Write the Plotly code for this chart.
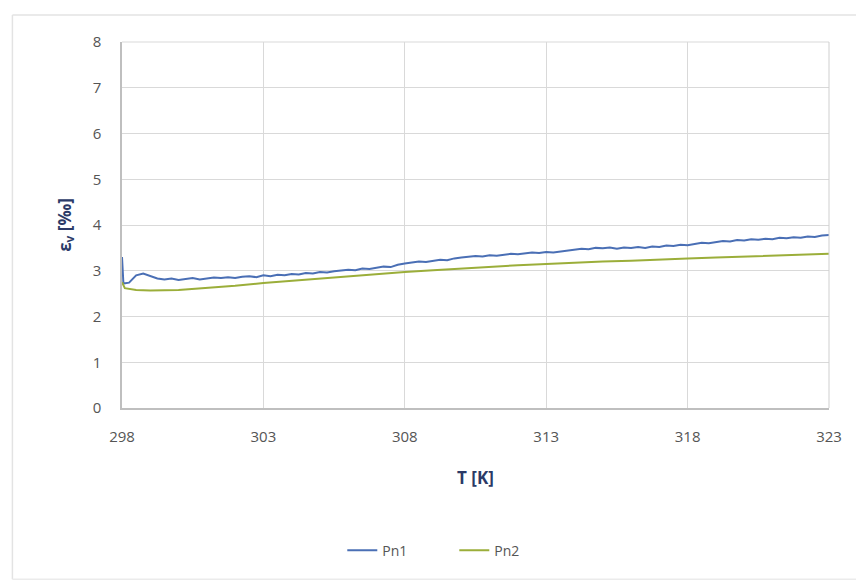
import plotly.graph_objects as go

# ---- data ----
T_PN1 = [298.0, 298.05, 298.25, 298.5, 298.75, 299.0, 299.25, 299.5, 299.75,
         300.0, 300.25, 300.5, 300.75, 301.0, 301.25, 301.5, 301.75,
         302.0, 302.25, 302.5, 302.75, 303.0, 303.25, 303.5, 303.75,
         304.0, 304.25, 304.5, 304.75, 305.0, 305.25, 305.5, 305.75,
         306.0, 306.25, 306.5, 306.75, 307.0, 307.25, 307.5, 307.75,
         308.0, 308.25, 308.5, 308.75, 309.0, 309.25, 309.5, 309.75,
         310.0, 310.25, 310.5, 310.75, 311.0, 311.25, 311.5, 311.75,
         312.0, 312.25, 312.5, 312.75, 313.0, 313.25, 313.5, 313.75,
         314.0, 314.25, 314.5, 314.75, 315.0, 315.25, 315.5, 315.75,
         316.0, 316.25, 316.5, 316.75, 317.0, 317.25, 317.5, 317.75,
         318.0, 318.25, 318.5, 318.75, 319.0, 319.25, 319.5, 319.75,
         320.0, 320.25, 320.5, 320.75, 321.0, 321.25, 321.5, 321.75,
         322.0, 322.25, 322.5, 322.75, 323.0]
PN1 = [3.30, 2.72, 2.74, 2.90, 2.94, 2.88, 2.83, 2.81, 2.83,
       2.80, 2.82, 2.84, 2.81, 2.83, 2.85, 2.84, 2.86,
       2.84, 2.87, 2.88, 2.86, 2.90, 2.88, 2.91, 2.90,
       2.93, 2.92, 2.95, 2.94, 2.97, 2.96, 2.99, 3.00,
       3.02, 3.01, 3.05, 3.04, 3.07, 3.09, 3.08, 3.13,
       3.16, 3.18, 3.20, 3.19, 3.22, 3.24, 3.23, 3.27,
       3.29, 3.31, 3.32, 3.31, 3.34, 3.33, 3.35, 3.37,
       3.36, 3.38, 3.40, 3.39, 3.41, 3.40, 3.42, 3.45,
       3.46, 3.48, 3.47, 3.50, 3.49, 3.51, 3.48, 3.51,
       3.50, 3.52, 3.50, 3.53, 3.52, 3.55, 3.54, 3.57,
       3.56, 3.58, 3.61, 3.60, 3.63, 3.65, 3.64, 3.67,
       3.66, 3.69, 3.68, 3.70, 3.69, 3.72, 3.71, 3.73,
       3.72, 3.75, 3.74, 3.77, 3.78]

T_PN2 = [298.0, 298.1, 298.5, 299.0, 300.0, 301.0, 302.0, 303.0, 304.0, 305.0,
         306.0, 307.0, 308.0, 309.0, 310.0, 311.0, 312.0, 313.0, 314.0,
         315.0, 316.0, 317.0, 318.0, 319.0, 320.0, 321.0, 322.0, 323.0]
PN2 = [2.75, 2.62, 2.58, 2.57, 2.58, 2.62, 2.67, 2.73, 2.78, 2.83,
       2.88, 2.93, 2.97, 3.01, 3.05, 3.08, 3.12, 3.15, 3.18,
       3.20, 3.22, 3.25, 3.27, 3.29, 3.31, 3.33, 3.35, 3.37]

X_TICKS = [298, 303, 308, 313, 318, 323]
Y_TICKS = [0, 1, 2, 3, 4, 5, 6, 7, 8]

FONT = "Open Sans"
TICK_COLOR = "#555555"
TITLE_COLOR = "#2B3A67"
GRID = "#D9D9D9"

fig = go.Figure()
fig.add_trace(go.Scatter(x=T_PN1, y=PN1, mode="lines", name="Pn1",
                         line=dict(color="#4A6FB5", width=2)))
fig.add_trace(go.Scatter(x=T_PN2, y=PN2, mode="lines", name="Pn2",
                         line=dict(color="#9BAE3A", width=2)))

fig.update_layout(
    width=864, height=583,
    margin=dict(l=114, r=43, t=34, b=183, autoexpand=False),
    paper_bgcolor="white", plot_bgcolor="white",
    font=dict(family=FONT, color=TICK_COLOR, size=14),
    showlegend=True,
    legend=dict(orientation="h", x=0.47, xanchor="center", y=-0.39, yanchor="middle",
                font=dict(size=14, color=TICK_COLOR), entrywidth=67, entrywidthmode="pixels"),
    xaxis=dict(range=[298, 323], tickvals=X_TICKS, ticktext=[str(v) for v in X_TICKS],
               showgrid=True, gridcolor=GRID, gridwidth=1,
               showline=True, linecolor="#BFBFBF", linewidth=1.5,
               ticks="", tickfont=dict(size=15, color=TICK_COLOR),
               ticklabelstandoff=14, zeroline=False, automargin=False,
               title=dict(text="<b>T [K]</b>", font=dict(size=17, color=TITLE_COLOR), standoff=27)),
    yaxis=dict(range=[0, 8], tickvals=Y_TICKS,
               showgrid=True, gridcolor=GRID, gridwidth=1,
               showline=True, linecolor="#BFBFBF", linewidth=1.5,
               ticks="", tickfont=dict(size=15, color=TICK_COLOR),
               ticklabelstandoff=16, zeroline=False, automargin=False,
               title=dict(text="<b>ε<sub>v</sub> [‰]</b>", font=dict(size=17, color=TITLE_COLOR), standoff=17)),
    shapes=[
        dict(type="line", xref="paper", yref="paper", x0=-0.155, x1=1.08, y0=1.074, y1=1.074,
             line=dict(color="#E3E3E3", width=1.5)),
        dict(type="line", xref="paper", yref="paper", x0=-0.155, x1=-0.155, y0=1.074, y1=-0.468,
             line=dict(color="#E3E3E3", width=1.5)),
        dict(type="line", xref="paper", yref="paper", x0=-0.155, x1=1.08, y0=-0.468, y1=-0.468,
             line=dict(color="#EBEBEB", width=1.5)),
        dict(type="line", xref="paper", yref="paper", x0=0, x1=1, y0=1, y1=1,
             line=dict(color=GRID, width=1)),
        dict(type="line", xref="paper", yref="paper", x0=1, x1=1, y0=0, y1=1,
             line=dict(color="#CFCFCF", width=1)),
    ],
)

fig.write_html("out.html")
